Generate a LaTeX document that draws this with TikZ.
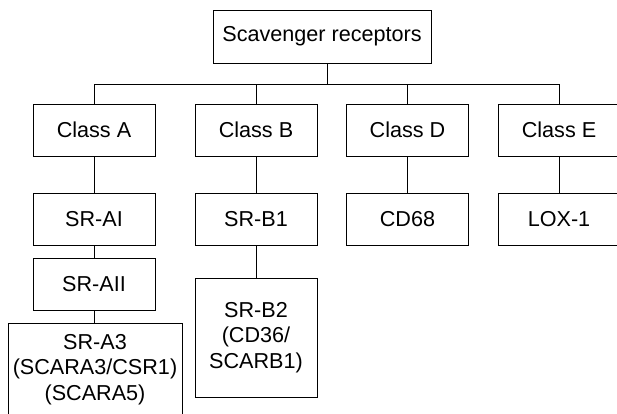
\documentclass[tikz,border=0pt]{standalone}
\usepackage{fontspec}
\setmainfont{Liberation Sans}
\usepackage{tikz}

\begin{document}
\begin{tikzpicture}
  [x=1pt,y=-1pt,line width=1pt,
   every node/.style={draw,rectangle,inner sep=0pt,align=center,
     minimum width=122pt,minimum height=52pt,
     font=\fontsize{21.6}{25.8}\selectfont}]
  \path[use as bounding box,clip] (0,0) rectangle (617,413);

  \node (top) at (322,36.5) [minimum width=218pt,minimum height=53pt] {Scavenger receptors};
  \node (ca) at (94,130)    {Class A};
  \node (cb) at (256,130)   {Class B};
  \node (cd) at (407.5,130) {Class D};
  \node (ce) at (559,130)   {Class E};

  \node (a1) at (94,219)    {SR-AI};
  \node (a2) at (94,284.5)  {SR-AII};
  \node (a3) at (95,369.5) [minimum width=174pt,minimum height=93pt]
     {SR-A3\\(SCARA3/CSR1)\\(SCARA5)};
  \node (b1) at (256,219)   {SR-B1};
  \node (b2) at (256,337.5) [minimum height=119pt] {SR-B2\\(CD36/\\SCARB1)};
  \node (d1) at (407.5,219) {CD68};
  \node (e1) at (559,219)   {LOX-1};

  \coordinate (bus) at (0,84);

    \draw ([xshift=5pt]top.south) -- ([xshift=5pt]top.south |- bus);
    \draw (ca.north) -- (ca.north |- bus) -- (ce.north |- bus) -- (ce.north);
    \draw (cb.north) -- (cb.north |- bus);
    \draw (cd.north) -- (cd.north |- bus);
    \draw (ca) -- (a1);
    \draw (a1) -- (a2);
    \draw (a2) -- (a2.south |- a3.north);
    \draw (cb) -- (b1);
    \draw (b1) -- (b2);
    \draw (cd) -- (d1);
    \draw (ce) -- (e1);

\end{tikzpicture}
\end{document}
